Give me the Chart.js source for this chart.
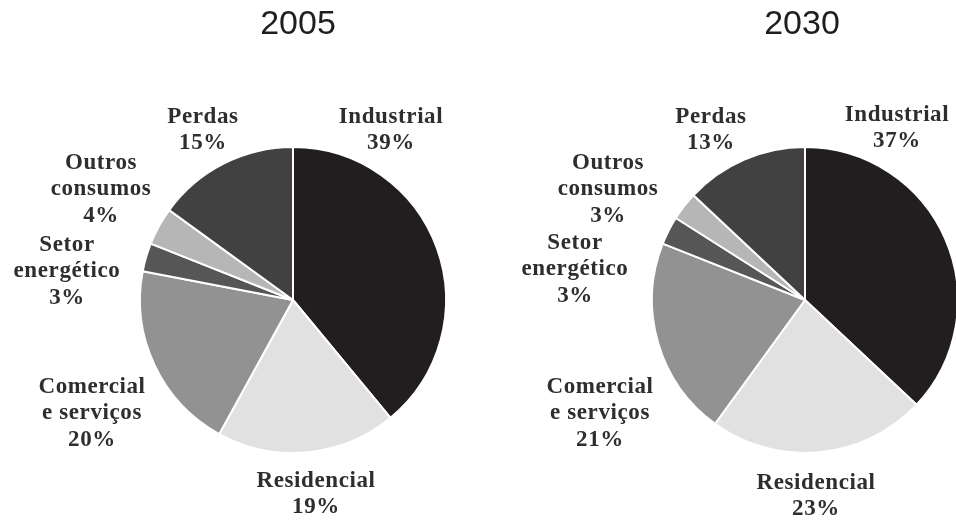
<!DOCTYPE html>
<html>
<head>
<meta charset="utf-8">
<script src="https://cdn.jsdelivr.net/npm/chart.js@4"></script>
<style>
  html, body { margin: 0; padding: 0; background: #fff; }
  #wrap { position: relative; width: 956px; height: 521px; overflow: hidden; }
  #wrap canvas { position: absolute; top: 0; }
  #chart2005 { left: 0; }
  #chart2030 { left: 490px; }
</style>
</head>
<body>
<div id="wrap">
  <canvas id="chart2005" width="490" height="521"></canvas>
  <canvas id="chart2030" width="466" height="521"></canvas>
</div>
<script>
// consumption shares, clockwise from the top
const categories = ['Industrial', 'Residencial', 'Comercial e serviços', 'Setor energético', 'Outros consumos', 'Perdas'];
const labelLines = [['Industrial'], ['Residencial'], ['Comercial', 'e serviços'], ['Setor', 'energético'], ['Outros', 'consumos'], ['Perdas']];
const values2005 = [39, 19, 20, 3, 4, 15];
const values2030 = [37, 23, 21, 3, 3, 13];
const years = ['2005', '2030'];

const sliceColors = ['#221e1f', '#e1e1e1', '#929292', '#565656', '#b6b6b6', '#414141'];

// label anchors relative to the pie centre (x, y of first line)
const labelOffsets2005 = [[98, -183], [23, 181], [-201, 87], [-226, -55], [-192, -137], [-90, -183]];
const labelOffsets2030 = [[92, -185], [11, 183], [-205, 87], [-230, -57], [-197, -137], [-94, -183]];

const pieLabels = {
  id: 'pieLabels',
  afterDraw(chart, args, opts) {
    const ctx = chart.ctx;
    const arc = chart.getDatasetMeta(0).data[0];
    const cx = arc.x, cy = arc.y;
    const data = chart.data.datasets[0].data;

    ctx.save();
    ctx.textAlign = 'center';
    ctx.textBaseline = 'middle';

    // year heading
    ctx.fillStyle = '#1e1e1e';
    ctx.font = '34px "Liberation Sans", Arial, sans-serif';
    ctx.fillText(opts.title, cx + opts.titleDx, cy - 275);

    ctx.fillStyle = '#2e2e2e';
    ctx.font = 'bold 23px "Liberation Serif", "Times New Roman", serif';
    ctx.letterSpacing = '0.6px';
    data.forEach((v, i) => {
      const lines = labelLines[i].concat([v + '%']);
      const [dx, dy] = opts.offsets[i];
      lines.forEach((t, j) => {
        ctx.fillText(t, cx + dx, cy + dy + j * 26.5);
      });
    });
    ctx.restore();
  }
};

function makePie(id, values, title, offsets, titleDx, padding) {
  return new Chart(document.getElementById(id), {
    type: 'pie',
    data: {
      labels: categories,
      datasets: [{
        data: values,
        backgroundColor: sliceColors,
        borderColor: '#ffffff',
        borderWidth: 2
      }]
    },
    options: {
      responsive: false,
      animation: false,
      radius: 153,
      layout: { padding: padding },
      plugins: {
        legend: { display: false },
        tooltip: { enabled: false },
        pieLabels: { title: title, offsets: offsets, titleDx: titleDx }
      }
    },
    plugins: [pieLabels]
  });
}

makePie('chart2005', values2005, years[0], labelOffsets2005, 5, { left: 110, right: 14, top: 100, bottom: 21 });
makePie('chart2030', values2030, years[1], labelOffsets2030, -3, { left: 169, right: 5, top: 100, bottom: 21 });
</script>
</body>
</html>
